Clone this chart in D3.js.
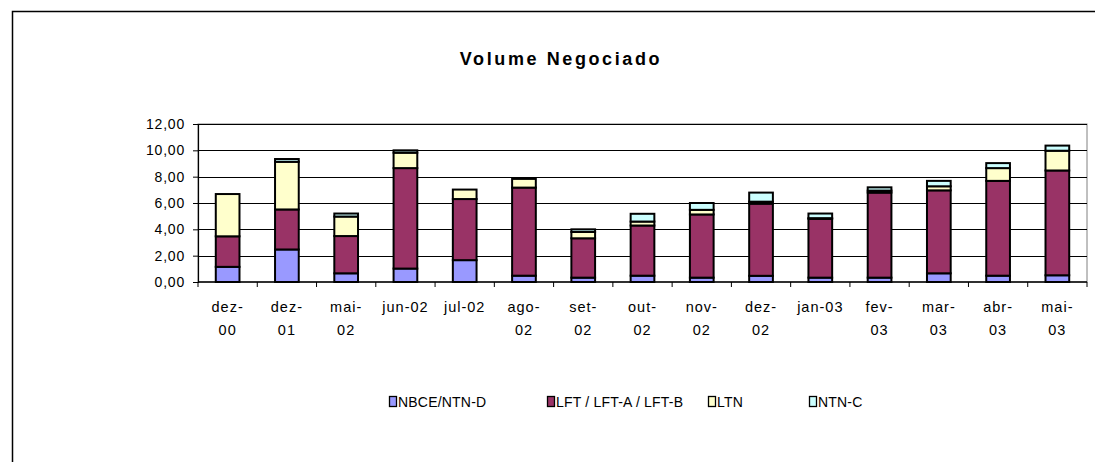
<!DOCTYPE html>
<html>
<head>
<meta charset="utf-8">
<script src="https://cdn.jsdelivr.net/npm/d3@7"></script>
<style>
  body { margin: 0; background: #fff; }
  text { font-family: Arial, "Liberation Sans", sans-serif; fill: #000; }
</style>
</head>
<body>
<div id="d3-target"></div>
<script>
const months = ['dez-00', 'dez-01', 'mai-02', 'jun-02', 'jul-02', 'ago-02', 'set-02', 'out-02',
  'nov-02', 'dez-02', 'jan-03', 'fev-03', 'mar-03', 'abr-03', 'mai-03'];

const nbce = [1.15, 2.47, 0.66, 1.02, 1.66, 0.48, 0.33, 0.48, 0.33, 0.47, 0.33, 0.33, 0.66, 0.48, 0.51];
const lft  = [2.32, 3.04, 2.83, 7.63, 4.64, 6.69, 2.99, 3.81, 4.80, 5.48, 4.47, 6.46, 6.30, 7.20, 7.96];
const ltn  = [3.21, 3.62, 1.48, 1.17, 0.72, 0.66, 0.48, 0.30, 0.35, 0.15, 0.05, 0.15, 0.31, 0.97, 1.50];
const ntnc = [0.00, 0.21, 0.23, 0.18, 0.00, 0.00, 0.20, 0.59, 0.52, 0.69, 0.35, 0.25, 0.41, 0.38, 0.39];

const seriesNames = ['NBCE/NTN-D', 'LFT / LFT-A / LFT-B', 'LTN', 'NTN-C'];
const seriesColors = ['#9999ff', '#993366', '#ffffcc', '#ccffff'];
const yTicks = [0, 2, 4, 6, 8, 10, 12];

const W = 1095, H = 462;
const margin = {top: 124, right: 8, bottom: 180, left: 198},
  width = 1087 - margin.left,
  height = 282 - margin.top;

const rows = months.map((m, i) => ({month: m, nbce: nbce[i], lft: lft[i], ltn: ltn[i], ntnc: ntnc[i]}));
const keys = ['nbce', 'lft', 'ltn', 'ntnc'];
const stack = d3.stack().keys(keys)(rows);

const x = d3.scaleBand().domain(months).range([0, width]);
const y = d3.scaleLinear().domain([0, 12]).range([height, 0]);
const barW = x.bandwidth() / 2.5;

const svg = d3.select('#d3-target').append('svg')
  .attr('width', W).attr('height', H);

// chart frame (cut by the window at right and bottom)
svg.append('rect')
  .attr('x', 12.5).attr('y', 11.5).attr('width', W).attr('height', H)
  .attr('fill', 'none').attr('stroke', '#000').attr('stroke-width', 1.5);

svg.append('text')
  .attr('x', 561).attr('y', 65)
  .attr('text-anchor', 'middle')
  .style('font-size', '18px').style('font-weight', 'bold').style('letter-spacing', '2.6px')
  .text('Volume Negociado');

const g = svg.append('g').attr('transform', `translate(${margin.left},${margin.top})`);

// plot area border
g.append('rect')
  .attr('x', 0).attr('y', 0).attr('width', width).attr('height', height)
  .attr('fill', 'none').attr('stroke', '#808080').attr('stroke-width', 1);

// gridlines
g.selectAll('.grid').data(yTicks.filter(d => d > 0)).enter().append('line')
  .attr('x1', 0).attr('x2', width)
  .attr('y1', d => Math.round(y(d)) + 0.5).attr('y2', d => Math.round(y(d)) + 0.5)
  .attr('stroke', '#000').attr('stroke-width', 1);

// y axis
const yAxis = d3.axisLeft(y).tickValues(yTicks).tickSize(5).tickPadding(8)
  .tickFormat(d => d3.format('.2f')(d).replace('.', ','));
const ya = g.append('g').call(yAxis);
ya.select('.domain').attr('stroke', '#000').attr('stroke-width', 1.2);
ya.selectAll('text').style('font-size', '14px').style('letter-spacing', '0.8px');

// x axis with ticks at category boundaries
g.append('line').attr('x1', 0).attr('x2', width).attr('y1', height).attr('y2', height)
  .attr('stroke', '#000').attr('stroke-width', 1.5);
g.selectAll('.xtick').data(months.concat(['_end'])).enter().append('line')
  .attr('x1', (d, i) => i * x.step()).attr('x2', (d, i) => i * x.step())
  .attr('y1', height).attr('y2', height + 5)
  .attr('stroke', '#000');

const xl = g.selectAll('.xlab').data(months).enter().append('text')
  .attr('text-anchor', 'middle')
  .attr('transform', d => `translate(${x(d) + x.bandwidth() / 2},${height + 30})`)
  .style('font-size', '14.5px').style('letter-spacing', '1px');
xl.each(function(d) {
  const t = d3.select(this);
  const [a, b] = d.split('-');
  if (d === 'jun-02' || d === 'jul-02' || d === 'jan-03') {
    t.append('tspan').attr('x', 0).attr('y', 0).text(d);
  } else {
    t.append('tspan').attr('x', 0).attr('y', 0).text(a + '-');
    t.append('tspan').attr('x', 0).attr('y', 23).text(b);
  }
});

// bars
g.selectAll('.series').data(stack).enter().append('g')
  .attr('fill', (d, i) => seriesColors[i])
  .selectAll('rect').data(d => d).enter().append('rect')
  .attr('x', d => x(d.data.month) + (x.bandwidth() - barW) / 2)
  .attr('width', barW)
  .attr('y', d => y(d[1]))
  .attr('height', d => y(d[0]) - y(d[1]))
  .attr('stroke', '#000').attr('stroke-width', 2)
  .attr('display', d => d[1] - d[0] > 0 ? null : 'none');

// legend
const legendX = [389, 547, 708, 809];
const lg = svg.append('g').attr('transform', 'translate(0,407)');
const li = lg.selectAll('.li').data(seriesNames).enter().append('g')
  .attr('transform', (d, i) => `translate(${legendX[i]},0)`);
li.append('rect').attr('x', 0.5).attr('y', -10.5).attr('width', 7).attr('height', 10)
  .attr('fill', (d, i) => seriesColors[i]).attr('stroke', '#000').attr('stroke-width', 1.3);
li.append('text').attr('x', 9).attr('y', 0).style('font-size', '14px').style('letter-spacing', '0.2px')
  .text(d => d);
</script>
</body>
</html>
